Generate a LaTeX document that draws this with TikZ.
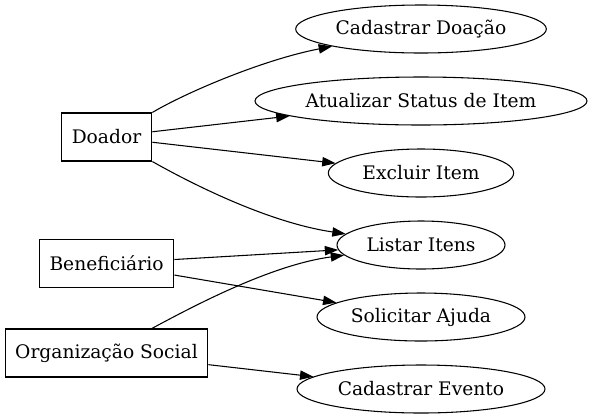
\documentclass[tikz,border=0pt]{standalone}
\usepackage{fontspec}
\setmainfont{DejaVu Serif}
\usetikzlibrary{shapes.geometric,arrows.meta}
\tikzset{
  actor/.style={draw, rectangle, minimum height=36pt, inner sep=0pt, line width=0.8pt, font=\fontsize{14}{17}\selectfont},
  usecase/.style={draw, ellipse, minimum height=36pt, inner sep=0pt, line width=0.8pt, font=\fontsize{14}{17}\selectfont},
  edge/.style={-{Triangle[length=10pt,width=7pt]}, line width=0.8pt}
}
\begin{document}
\begin{tikzpicture}[x=0.75pt,y=-0.75pt]
\useasboundingbox (0,0) rectangle (592,419);
% actors
\node[actor, minimum width=68pt] (doador) at (106.5,137) {Doador};
\node[actor, minimum width=101pt] (benef) at (106.5,263.5) {Beneficiário};
\node[actor, minimum width=152pt] (org) at (106.5,353) {Organização Social};
% use cases
\node[usecase, minimum width=188pt] (cadDoacao) at (421,29) {Cadastrar Doação};
\node[usecase, minimum width=249pt] (atualizar) at (421,101) {Atualizar Status de Item};
\node[usecase, minimum width=139pt] (excluir) at (421,173) {Excluir Item};
\node[usecase, minimum width=126pt] (listar) at (421,245) {Listar Itens};
\node[usecase, minimum width=156pt] (solicitar) at (421,317) {Solicitar Ajuda};
\node[usecase, minimum width=186pt] (cadEvento) at (421,389) {Cadastrar Evento};
% edges
\draw[edge] (doador.north east) .. controls (185,93) and (262,60) .. (cadDoacao);
\draw[edge] (doador) -- (atualizar);
\draw[edge] (doador) -- (excluir);
\draw[edge] (doador.south east) .. controls (185,180) and (265,222) .. (listar);
\draw[edge] (benef) -- (listar);
\draw[edge] (benef) -- (solicitar);
\draw[edge] ([xshift=34pt]org.north) .. controls (190,308) and (270,265) .. (listar);
\draw[edge] (org) -- (cadEvento);
\end{tikzpicture}
\end{document}
